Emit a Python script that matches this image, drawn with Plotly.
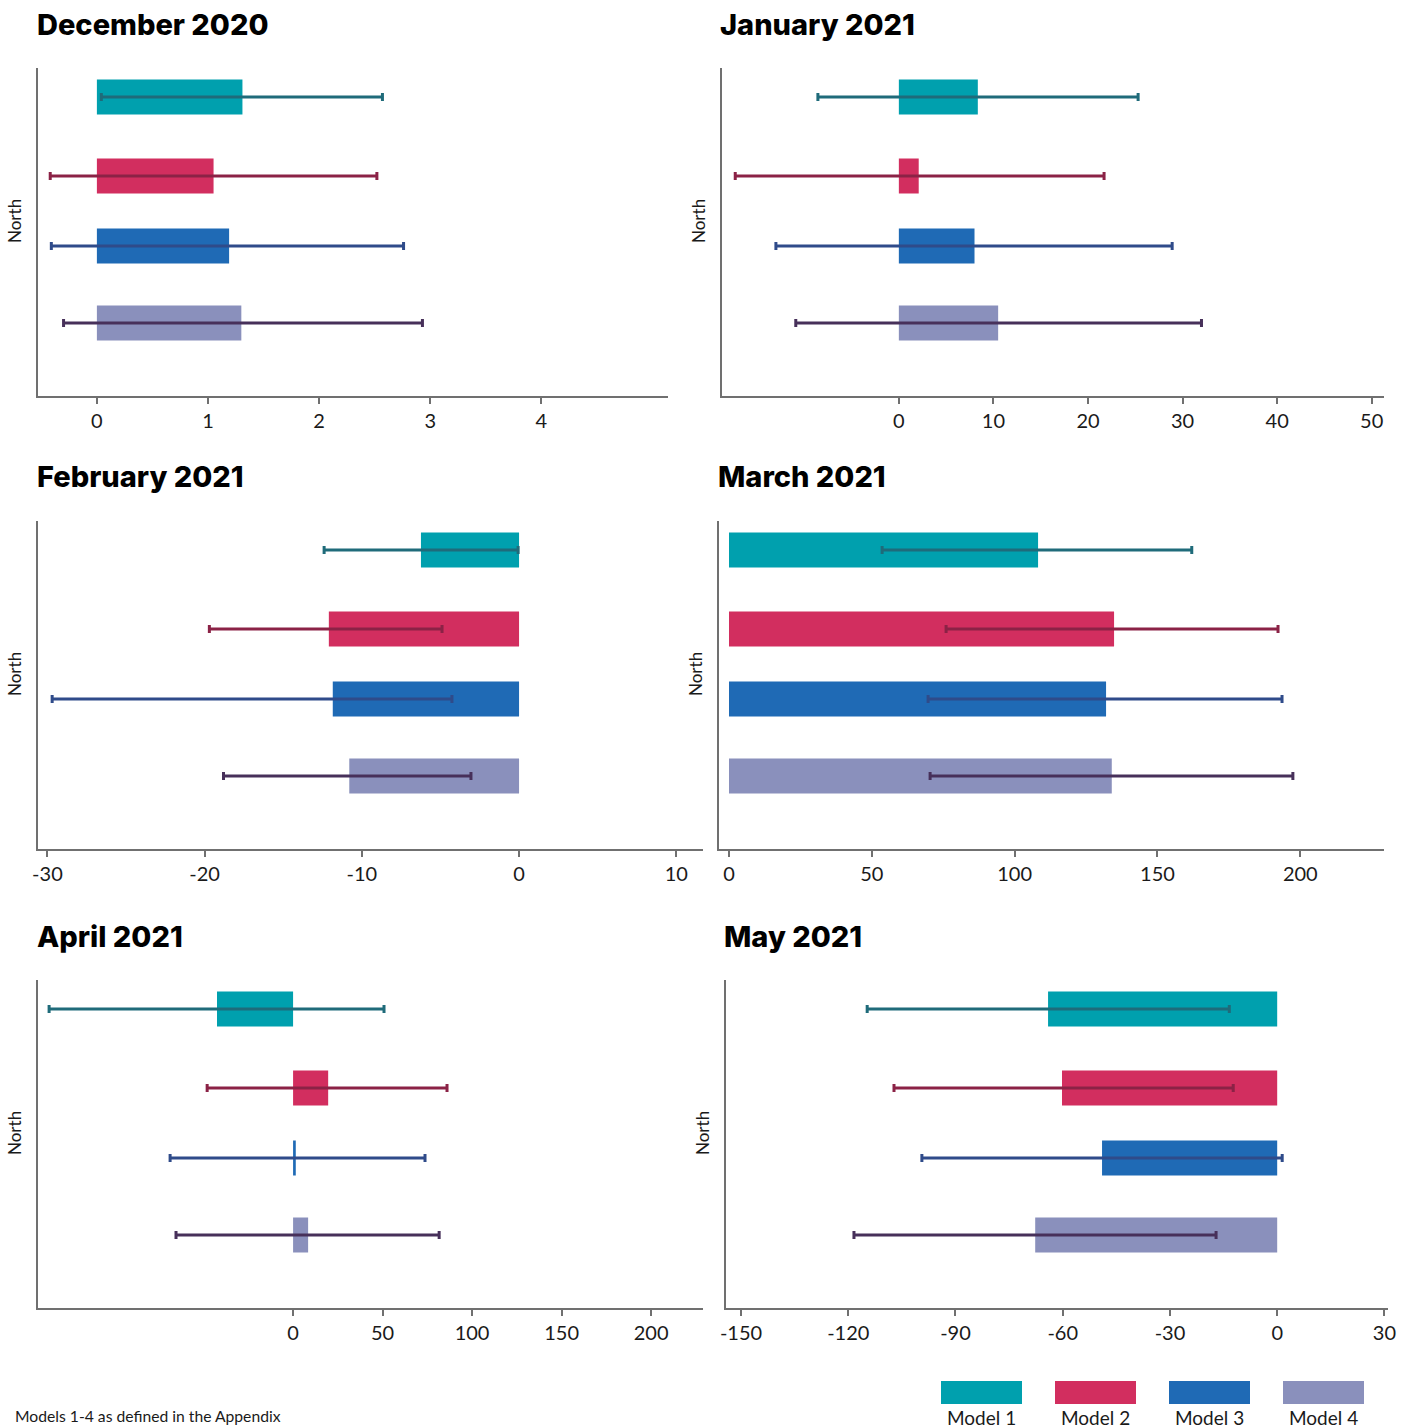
import plotly.graph_objects as go

W, H = 1410, 1428

models = ["Model 1", "Model 2", "Model 3", "Model 4"]
bar_colors = ["#00A0AE", "#D22E5F", "#1F6AB5", "#8A90BC"]
err_colors = ["#1F6B7A", "#8B2246", "#2F4B8A", "#47305A"]

months = ["December 2020", "January 2021", "February 2021", "March 2021", "April 2021", "May 2021"]

# point estimates, lower and upper bounds per month (Model 1..4)
dec_val = [1.31, 1.05, 1.19, 1.30]
dec_lo = [0.04, -0.42, -0.41, -0.30]
dec_hi = [2.57, 2.52, 2.76, 2.93]

jan_val = [8.35, 2.1, 8.0, 10.5]
jan_lo = [-8.56, -17.3, -13.0, -10.9]
jan_hi = [25.3, 21.7, 28.9, 32.0]

feb_val = [-6.24, -12.1, -11.85, -10.8]
feb_lo = [-12.4, -19.7, -29.7, -18.8]
feb_hi = [-0.06, -4.9, -4.27, -3.06]

mar_val = [108.2, 134.8, 132.0, 134.0]
mar_lo = [53.6, 76.0, 69.7, 70.4]
mar_hi = [162.0, 192.2, 193.6, 197.4]

apr_val = [-42.5, 19.6, 1.5, 8.4]
apr_lo = [-136.3, -48.0, -68.7, -65.4]
apr_hi = [50.8, 86.0, 73.7, 81.6]

may_val = [-64.1, -60.2, -49.0, -67.7]
may_lo = [-114.7, -107.2, -99.4, -118.4]
may_hi = [-13.4, -12.3, 1.4, -17.1]

dec_ticks = [0, 1, 2, 3, 4]
jan_ticks = [0, 10, 20, 30, 40, 50]
feb_ticks = [-30, -20, -10, 0, 10]
mar_ticks = [0, 50, 100, 150, 200]
apr_ticks = [0, 50, 100, 150, 200]
may_ticks = [-150, -120, -90, -60, -30, 0, 30]

data = [
    (dec_val, dec_lo, dec_hi, dec_ticks),
    (jan_val, jan_lo, jan_hi, jan_ticks),
    (feb_val, feb_lo, feb_hi, feb_ticks),
    (mar_val, mar_lo, mar_hi, mar_ticks),
    (apr_val, apr_lo, apr_hi, apr_ticks),
    (may_val, may_lo, may_hi, may_ticks),
]

# layout (pixels): plot area x0, x1, y0(top), y1(bottom), x range, title x
panels = [
    dict(x0=38, x1=668, y0=68, y1=396, rng=[-0.53, 5.14], tx=35),
    dict(x0=722, x1=1384, y0=68, y1=396, rng=[-18.7, 51.3], tx=718),
    dict(x0=38, x1=703, y0=521, y1=849, rng=[-30.6, 11.7], tx=35),
    dict(x0=719, x1=1384, y0=521, y1=849, rng=[-3.5, 229.3], tx=716),
    dict(x0=38, x1=703, y0=980, y1=1308, rng=[-142.5, 229], tx=35),
    dict(x0=726, x1=1388, y0=980, y1=1308, rng=[-154.2, 31], tx=722),
]

slot_pos = [299, 220, 150, 73]   # vertical slots within a 0..328 axis
BAR_W = 35

FONT = "Lato"
TITLE_FONT = "Inter"
AXIS_COL = "#707070"
TXT_COL = "#1a1a1a"

fig = go.Figure()
layout = dict(
    width=W, height=H, margin=dict(l=0, r=0, t=0, b=0, autoexpand=False), autosize=False,
    plot_bgcolor="white", paper_bgcolor="white", showlegend=False,
    font=dict(family=FONT, color=TXT_COL), barmode="overlay",
)
annotations = []
shapes = []

for i, ((vals, lo, hi, ticks), p, month) in enumerate(zip(data, panels, months)):
    n = "" if i == 0 else str(i + 1)
    xa, ya = "x" + n, "y" + n
    for m in range(4):
        fig.add_trace(go.Bar(
            x=[vals[m]], y=[slot_pos[m]], orientation="h", width=BAR_W,
            marker=dict(color=bar_colors[m], line=dict(width=0)),
            name=models[m], xaxis=xa, yaxis=ya, hoverinfo="skip",
            error_x=dict(type="data", symmetric=False,
                         array=[hi[m] - vals[m]], arrayminus=[vals[m] - lo[m]],
                         color=err_colors[m], thickness=3, width=4),
        ))
    layout["xaxis" + n] = dict(
        domain=[p["x0"] / W, p["x1"] / W], anchor=ya, range=p["rng"],
        tickvals=ticks, ticktext=[str(t) for t in ticks], automargin=False,
        showline=True, linecolor=AXIS_COL, linewidth=1.5,
        ticks="outside", ticklen=6, tickcolor=AXIS_COL, tickwidth=1.5,
        showgrid=False, zeroline=False,
        tickfont=dict(family=FONT, size=20, color=TXT_COL),
    )
    layout["yaxis" + n] = dict(
        domain=[1 - p["y1"] / H, 1 - p["y0"] / H], anchor=xa, range=[0, 328],
        showline=True, linecolor=AXIS_COL, linewidth=1.5, automargin=False,
        showticklabels=False, ticks="", showgrid=False, zeroline=False,
    )
    annotations.append(dict(
        text=month, xref="paper", yref="paper",
        x=p["tx"] / W, y=1 - (p["y0"] - 44) / H, xanchor="left", yanchor="middle",
        showarrow=False, font=dict(family=TITLE_FONT, size=29, color="#000000", weight=800),
    ))
    annotations.append(dict(
        text="North", xref="paper", yref="paper",
        x=(p["x0"] - 24) / W, y=1 - ((p["y0"] + p["y1"]) / 2 - 11) / H,
        xanchor="center", yanchor="middle", textangle=-90, showarrow=False,
        font=dict(family=FONT, size=17, color=TXT_COL),
    ))

# legend (swatch above label)
for m in range(4):
    lx = 941 + 114 * m
    shapes.append(dict(type="rect", xref="paper", yref="paper",
                       x0=lx / W, x1=(lx + 81) / W, y0=1 - 1404 / H, y1=1 - 1381 / H,
                       fillcolor=bar_colors[m], line=dict(width=0)))
    annotations.append(dict(text=models[m], xref="paper", yref="paper",
                            x=(lx + 40.5) / W, y=1 - 1417 / H, xanchor="center", yanchor="middle",
                            showarrow=False, font=dict(family=FONT, size=19, color=TXT_COL)))

annotations.append(dict(text="Models 1-4 as defined in the Appendix", xref="paper", yref="paper",
                        x=13 / W, y=1 - 1416 / H, xanchor="left", yanchor="middle",
                        showarrow=False, font=dict(family=FONT, size=15.7, color=TXT_COL)))

layout["annotations"] = annotations
layout["shapes"] = shapes
fig.update_layout(**layout)
fig.write_html(
    "out.html",
    config={"responsive": False, "displayModeBar": False},
    post_script="document.body.style.margin='0';document.body.style.overflow='hidden';",
)
